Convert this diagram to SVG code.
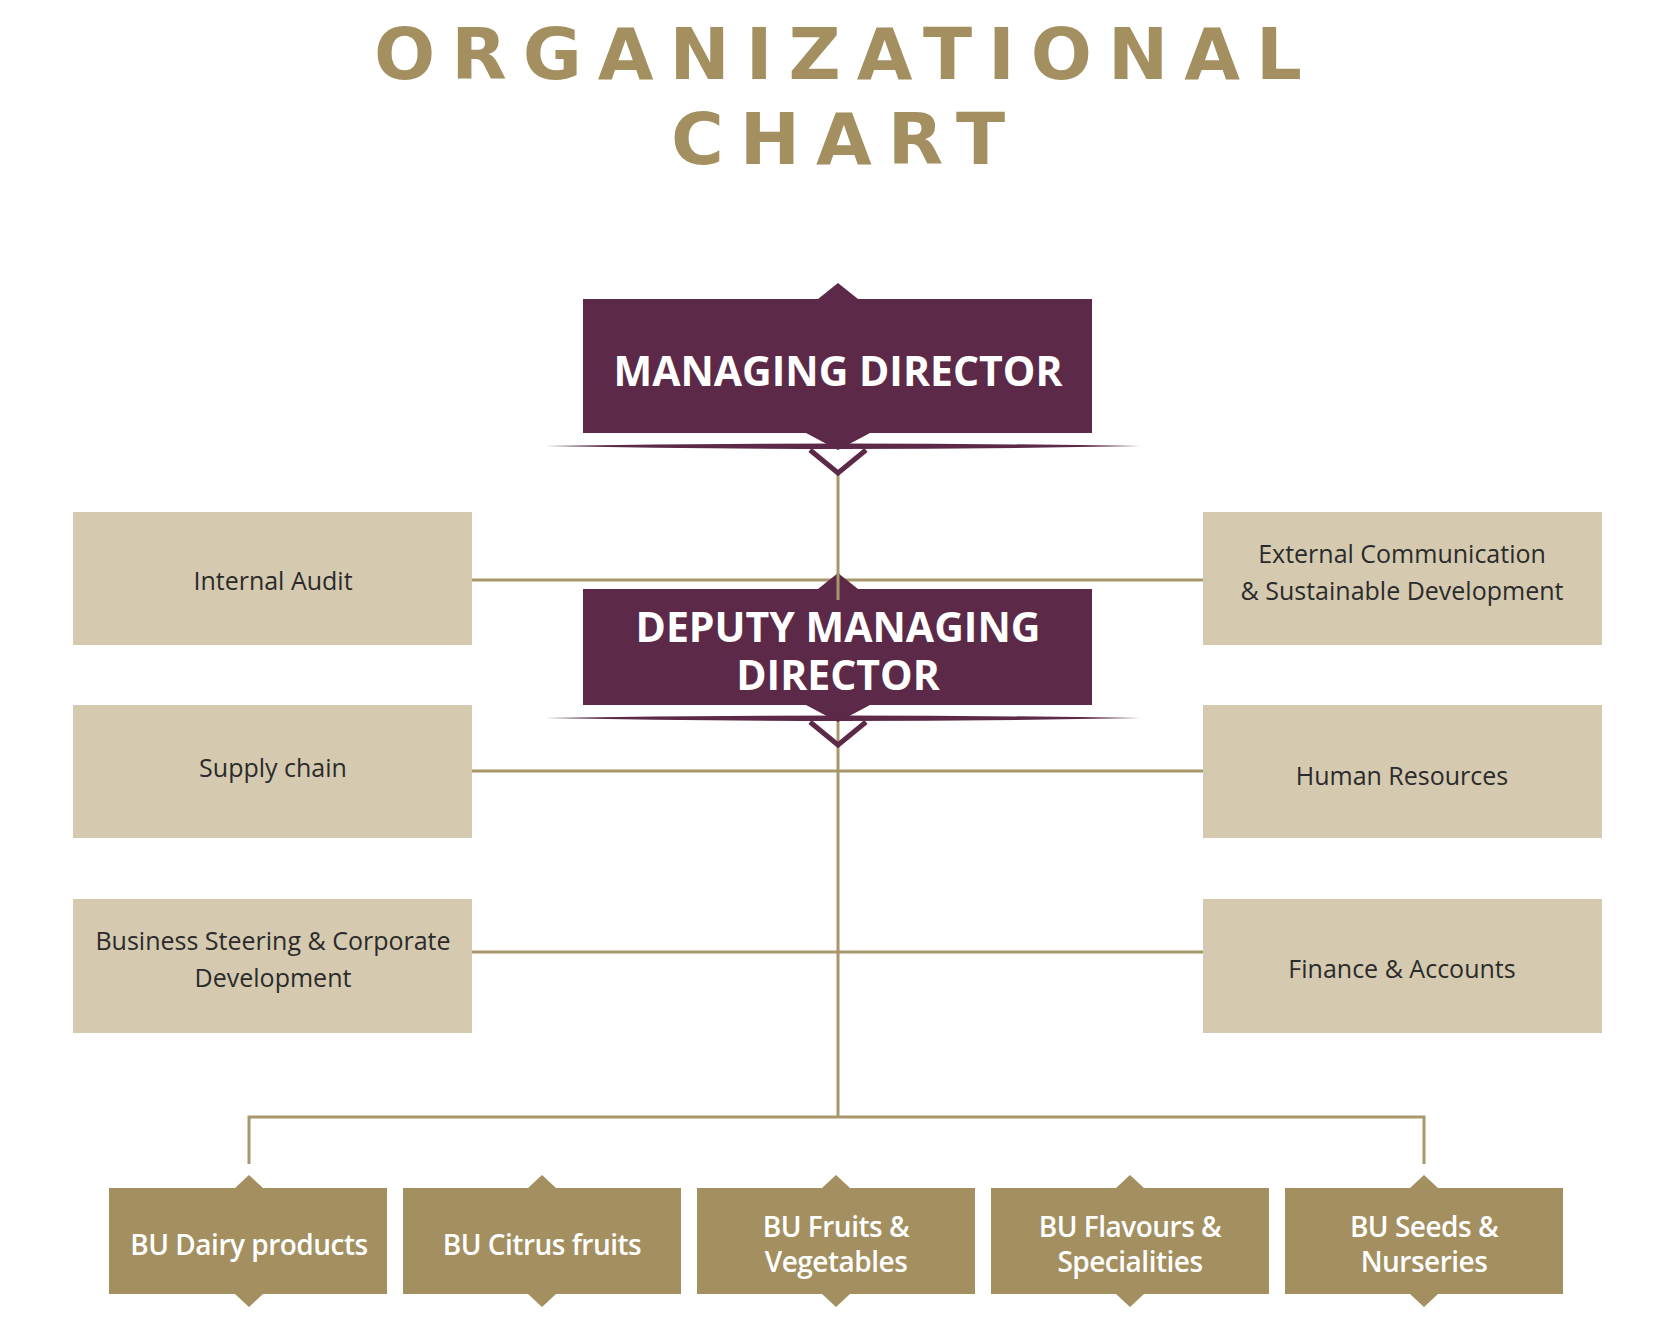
<svg xmlns="http://www.w3.org/2000/svg" width="1667" height="1324" viewBox="0 0 1667 1324">
<style>
.title{font-family:"DejaVu Sans",sans-serif;font-weight:700;font-size:72px;fill:#A38F5F;text-anchor:middle;letter-spacing:16px}
.ln{stroke:#A8976A;stroke-width:3;fill:none}
.side{fill:#D5CAB0}
.st{font-family:"Open Sans","Liberation Sans",sans-serif;font-size:25px;fill:#2b2b2b;text-anchor:middle}
.pur{fill:#5C2A48}
.big{font-family:"Open Sans","Liberation Sans",sans-serif;font-weight:700;font-size:41px;fill:#fff;text-anchor:middle}
.bu{fill:#A38F5F}
.bt{font-family:"Open Sans","Liberation Sans",sans-serif;font-weight:600;font-size:28px;fill:#fff;text-anchor:middle;letter-spacing:-0.5px}
</style>
<rect width="1667" height="1324" fill="#fff"/>
<text class="title" x="846" y="79">ORGANIZATIONAL</text>
<text class="title" x="846" y="164">CHART</text>
<g id="connectors">
<path class="ln" d="M838 470V1117M472 580H1203M472 771H1203M472 952H1203M249 1164V1117H1424V1164"/>
</g>
<g id="md">
<rect class="pur" x="583" y="299" width="509" height="134"/>
<path class="pur" d="M818 299L838 283L858 299Z M806 433L838 450L870 433Z"/>
<path class="pur" d="M545 446Q838 441 1141 446Q838 452 545 446Z"/>
<path d="M810 450L838 473L866 450" fill="none" stroke="#5C2A48" stroke-width="5"/>
<text class="big" x="838" y="386">MANAGING DIRECTOR</text>
</g>
<g id="dmd">
<rect class="pur" x="583" y="589" width="509" height="116"/>
<path class="pur" d="M818 589L838 573L858 589Z M806 705L838 722L870 705Z"/>
<path class="pur" d="M545 718Q838 713 1141 718Q838 724 545 718Z"/>
<path d="M810 722L838 745L866 722" fill="none" stroke="#5C2A48" stroke-width="5"/>
<line class="ln" x1="838" y1="573" x2="838" y2="600"/>
<text class="big" x="838" y="642">DEPUTY MANAGING</text>
<text class="big" x="838" y="690">DIRECTOR</text>
</g>
<g id="audit"><rect class="side" x="73" y="512" width="399" height="133"/><text class="st" x="273" y="590">Internal Audit</text></g>
<g id="extcomm"><rect class="side" x="1203" y="512" width="399" height="133"/><text class="st" x="1402" y="563">External Communication</text><text class="st" x="1402" y="600">&amp; Sustainable Development</text></g>
<g id="supply"><rect class="side" x="73" y="705" width="399" height="133"/><text class="st" x="273" y="777">Supply chain</text></g>
<g id="hr"><rect class="side" x="1203" y="705" width="399" height="133"/><text class="st" x="1402" y="785">Human Resources</text></g>
<g id="business"><rect class="side" x="73" y="899" width="399" height="134"/><text class="st" x="273" y="950">Business Steering &amp; Corporate</text><text class="st" x="273" y="987">Development</text></g>
<g id="finance"><rect class="side" x="1203" y="899" width="399" height="134"/><text class="st" x="1402" y="978">Finance &amp; Accounts</text></g>
<g id="bu1"><rect class="bu" x="109" y="1188" width="278" height="106"/><path class="bu" d="M235 1188L249 1175L263 1188ZM235 1294L249 1307L263 1294Z"/><text class="bt" x="249" y="1255">BU Dairy products</text></g>
<g id="bu2"><rect class="bu" x="403" y="1188" width="278" height="106"/><path class="bu" d="M528 1188L542 1175L556 1188ZM528 1294L542 1307L556 1294Z"/><text class="bt" x="542" y="1255">BU Citrus fruits</text></g>
<g id="bu3"><rect class="bu" x="697" y="1188" width="278" height="106"/><path class="bu" d="M822 1188L836 1175L850 1188ZM822 1294L836 1307L850 1294Z"/><text class="bt" x="836" y="1237">BU Fruits &amp;</text><text class="bt" x="836" y="1272">Vegetables</text></g>
<g id="bu4"><rect class="bu" x="991" y="1188" width="278" height="106"/><path class="bu" d="M1116 1188L1130 1175L1144 1188ZM1116 1294L1130 1307L1144 1294Z"/><text class="bt" x="1130" y="1237">BU Flavours &amp;</text><text class="bt" x="1130" y="1272">Specialities</text></g>
<g id="bu5"><rect class="bu" x="1285" y="1188" width="278" height="106"/><path class="bu" d="M1410 1188L1424 1175L1438 1188ZM1410 1294L1424 1307L1438 1294Z"/><text class="bt" x="1424" y="1237">BU Seeds &amp;</text><text class="bt" x="1424" y="1272">Nurseries</text></g>
</svg>
